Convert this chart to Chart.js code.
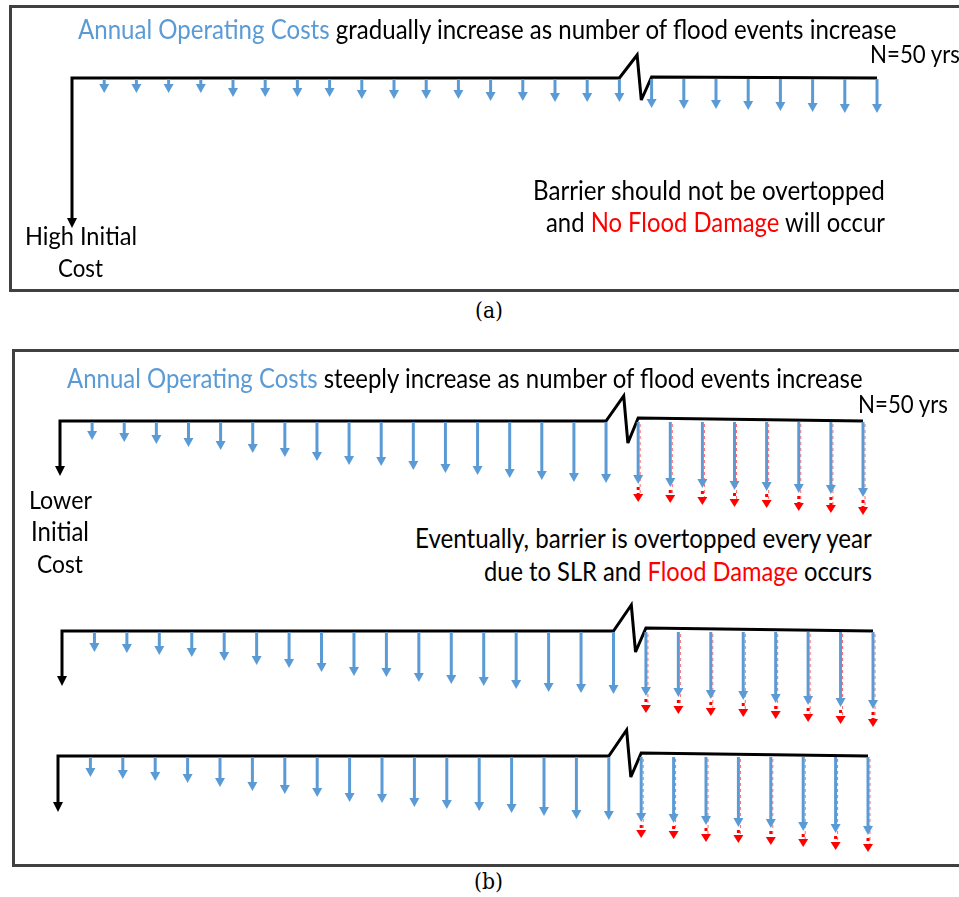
<!DOCTYPE html>
<html><head><meta charset="utf-8">
<script src="https://cdn.jsdelivr.net/npm/chart.js@4.4.1/dist/chart.umd.min.js"></script>
<style>
html,body{margin:0;padding:0;background:#fff;}
body{width:959px;height:897px;overflow:hidden;position:relative;}
.panel{position:absolute;border:3.4px solid #404040;box-sizing:border-box;}
canvas.row{position:absolute;left:0;}
.t{position:absolute;white-space:nowrap;line-height:1;font-family:Lato,sans-serif;color:#000;}
</style></head><body>
<div class="panel" style="left:9.3px;top:5px;width:1000px;height:287px"></div>
<div class="panel" style="left:11.7px;top:349.3px;width:1000px;height:517.4px"></div>
<canvas id="cA" class="row"></canvas>
<canvas id="cB1" class="row"></canvas>
<canvas id="cB2" class="row"></canvas>
<canvas id="cB3" class="row"></canvas>
<script>
// ---------------- DATA ----------------
// years shown on each cash-flow line (axis break between year 17 and year 43)
const YEAR_LABELS = ['1','2','3','4','5','6','7','8','9','10','11','12','13','14','15','16','17',
                     '43','44','45','46','47','48','49','50'];
const BREAK_AFTER = 17;              // index of last year before the break
const N_YEARS = 50;

// (a) high initial cost, gradually increasing annual operating costs, no damage
const A_INITIAL = 150;
const A_OPERATING = [15,15,15,15,19,19,19,19,21,21,21,21,23,23,24,24,24,30,31,31,32,33,34,35,35];

// (b) three realisations: lower initial cost, steeply increasing operating costs, flood damage late
const B1_INITIAL = 55;
const B1_OPERATING = [19,21,23,26,29,32,36,40,44,45,49,52,54,57,59,61,62,63,66,67,69,70,72,73,76];
const B1_DAMAGE    = [0,0,0,0,0,0,0,0,0,0,0,0,0,0,0,0,0,18,16,17,17,17,18,19,18];

const B2_INITIAL = 55;
const B2_OPERATING = [21,22,24,26,30,34,37,41,45,46,51,53,55,58,61,62,63,65,66,68,69,72,74,76,78];
const B2_DAMAGE    = [0,0,0,0,0,0,0,0,0,0,0,0,0,0,0,0,0,17,17,17,17,16,17,17,18];

const B3_INITIAL = 56;
const B3_OPERATING = [21,23,25,27,31,35,38,41,46,47,51,53,55,57,60,63,64,66,67,69,71,72,75,77,79];
const B3_DAMAGE    = [0,0,0,0,0,0,0,0,0,0,0,0,0,0,0,0,0,16,16,17,16,17,16,17,17];

// ---------------- STYLE ----------------
const BLUE = '#5B9BD5', RED = '#FF0000', BLACK = '#000000';

function head(ctx, x, tip, w, h, color) {
  ctx.fillStyle = color;
  ctx.beginPath();
  ctx.moveTo(x, tip);
  ctx.lineTo(x - w / 2, tip - h);
  ctx.lineTo(x + w / 2, tip - h);
  ctx.closePath();
  ctx.fill();
}

const cashFlowPlugin = {
  id: 'cashflow',
  afterDatasetsDraw(chart, args, opts) {
    const ctx = chart.ctx, xs = chart.scales.x, ys = chart.scales.y;
    const y0 = ys.getPixelForValue(0);
    const px = v => xs.getPixelForValue(v);
    const s = px(1) - px(0);
    const initPt = chart.getDatasetMeta(0).data[0];
    const opMeta = chart.getDatasetMeta(1).data;
    const dmgMeta = chart.data.datasets[2] ? chart.getDatasetMeta(2).data : [];
    const dmgData = chart.data.datasets[2] ? chart.data.datasets[2].data : [];
    ctx.save();
    // thin dashed red lines (flood damage) behind the blue arrows
    ctx.strokeStyle = 'rgba(255,40,40,0.7)';
    ctx.lineWidth = 1;
    ctx.setLineDash([3, 3]);
    dmgMeta.forEach(p => {
      ctx.beginPath();
      ctx.moveTo(p.x + 2, y0 + 3);
      ctx.lineTo(p.x + 2, p.y - 8);
      ctx.stroke();
    });
    ctx.setLineDash([]);
    // timeline with initial cost arrow and axis break
    const xb = px(opts.breakAt), xa = px(opts.breakAt + 1), xl = px(opts.last);
    ctx.strokeStyle = BLACK;
    ctx.lineWidth = 3;
    ctx.lineJoin = 'miter';
    ctx.miterLimit = 3;
    ctx.beginPath();
    ctx.moveTo(initPt.x, initPt.y - 9);
    ctx.lineTo(initPt.x, y0);
    ctx.lineTo(xb, y0);
    ctx.lineTo(xb + 0.55 * s, y0 - opts.peak);
    ctx.lineTo(xb + 0.68 * s, y0 + opts.trough);
    ctx.lineTo(xa, y0 - opts.rise);
    ctx.lineTo(xl, y0);
    ctx.stroke();
    head(ctx, initPt.x, initPt.y, 10, 10, BLACK);
    // blue operating cost arrows
    ctx.strokeStyle = BLUE;
    ctx.lineWidth = 3;
    opMeta.forEach(p => {
      ctx.beginPath();
      ctx.moveTo(p.x, y0 + 1);
      ctx.lineTo(p.x, p.y - 8);
      ctx.stroke();
      head(ctx, p.x, p.y, 10, 9, BLUE);
    });
    // red flood damage arrow ends
    ctx.strokeStyle = RED;
    ctx.lineWidth = 3;
    dmgMeta.forEach((p, k) => {
      const blueTip = ys.getPixelForValue(dmgData[k].base);
      ctx.setLineDash([3, 3]);
      ctx.beginPath();
      ctx.moveTo(p.x, blueTip + 3);
      ctx.lineTo(p.x, p.y - 8);
      ctx.stroke();
      ctx.setLineDash([]);
      head(ctx, p.x, p.y, 10, 8, RED);
    });
    ctx.restore();
  }
};

function makeRow(id, lay, initial, operating, damage) {
  const cv = document.getElementById(id);
  const H = lay.above + lay.below;
  cv.width = 959; cv.height = H;
  cv.style.width = '959px'; cv.style.height = H + 'px';
  cv.style.top = (lay.lineY - lay.above) + 'px';
  const datasets = [
    { label: 'Initial cost', data: [{ x: 0, y: initial }], pointRadius: 0 },
    { label: 'Annual operating cost', data: operating.map((v, i) => ({ x: i + 1, y: v, year: YEAR_LABELS[i] })), pointRadius: 0 }
  ];
  if (damage) {
    const d = [];
    damage.forEach((v, i) => { if (v > 0) d.push({ x: i + 1, y: operating[i] + v, base: operating[i], year: YEAR_LABELS[i] }); });
    datasets.push({ label: 'Flood damage', data: d, pointRadius: 0 });
  }
  return new Chart(cv, {
    type: 'scatter',
    data: { datasets },
    options: {
      responsive: false, animation: false, devicePixelRatio: 1,
      layout: { padding: { left: lay.x0, right: 959 - lay.x1, top: 0, bottom: 0 } },
      scales: {
        x: { type: 'linear', min: 0, max: YEAR_LABELS.length, display: false },
        y: { type: 'linear', min: -lay.above, max: lay.below, reverse: true, display: false }
      },
      plugins: {
        legend: { display: false }, tooltip: { enabled: false },
        cashflow: { breakAt: BREAK_AFTER, last: YEAR_LABELS.length, peak: lay.peak, trough: lay.trough, rise: lay.rise }
      }
    },
    plugins: [cashFlowPlugin]
  });
}

makeRow('cA',  { lineY: 78,  above: 40, below: 160, x0: 72, x1: 877, peak: 23, trough: 22, rise: 1 }, A_INITIAL, A_OPERATING, null);
makeRow('cB1', { lineY: 421, above: 40, below: 100, x0: 60, x1: 863, peak: 25, trough: 22, rise: 3 }, B1_INITIAL, B1_OPERATING, B1_DAMAGE);
makeRow('cB2', { lineY: 631, above: 40, below: 100, x0: 62, x1: 873, peak: 26, trough: 21, rise: 3 }, B2_INITIAL, B2_OPERATING, B2_DAMAGE);
makeRow('cB3', { lineY: 756, above: 40, below: 100, x0: 58, x1: 868, peak: 26, trough: 21, rise: 3 }, B3_INITIAL, B3_OPERATING, B3_DAMAGE);

// ---------------- TEXT ----------------
function place(parts, left, width, baseline, font, sy) {
  const el = document.createElement('div');
  el.className = 't';
  if (font) el.style.fontFamily = font;
  el.style.fontSize = '100px';
  parts.forEach(([txt, col]) => {
    const s = document.createElement('span');
    s.textContent = txt;
    if (col) s.style.color = col;
    el.appendChild(s);
  });
  const mk = document.createElement('span');
  mk.style.cssText = 'display:inline-block;width:0;height:0;';
  el.appendChild(mk);
  el.style.left = left + 'px';
  el.style.top = '0px';
  document.body.appendChild(el);
  const w = el.getBoundingClientRect().width;
  el.style.fontSize = (100 * width / w) + 'px';
  const r = el.getBoundingClientRect(), m = mk.getBoundingClientRect();
  const off = m.top - r.top;
  el.style.top = (baseline - off) + 'px';
  const k = sy === undefined ? 1.1 : sy;
  el.style.transformOrigin = '0 ' + off + 'px';
  el.style.transform = 'scaleY(' + k + ')';
}
place([['Annual Operating Costs', BLUE], [' gradually increase as number of flood events increase']], 78, 819, 39);
place([['N=' + N_YEARS + ' yrs']], 870, 90, 63);
place([['High Initial']], 25, 112, 245);
place([['Cost']], 58, 45, 277);
place([['Barrier should not be overtopped']], 533, 352, 200);
place([['and '], ['No Flood Damage', RED], [' will occur']], 546, 339, 232);
place([['(a)']], 475, 28, 318, '"DejaVu Serif", serif', 1.05);

place([['Annual Operating Costs', BLUE], [' steeply increase as number of flood events increase']], 67, 796, 388);
place([['N=' + N_YEARS + ' yrs']], 858, 90, 413);
place([['Lower']], 29, 63, 509);
place([['Initial']], 31, 58, 541);
place([['Cost']], 37, 46, 573);
place([['Eventually, barrier is overtopped every year']], 415, 457, 548);
place([['due to SLR and '], ['Flood Damage', RED], [' occurs']], 484, 388, 581);
place([['(b)']], 474, 29, 889, '"DejaVu Serif", serif', 1.05);
</script>
</body></html>
